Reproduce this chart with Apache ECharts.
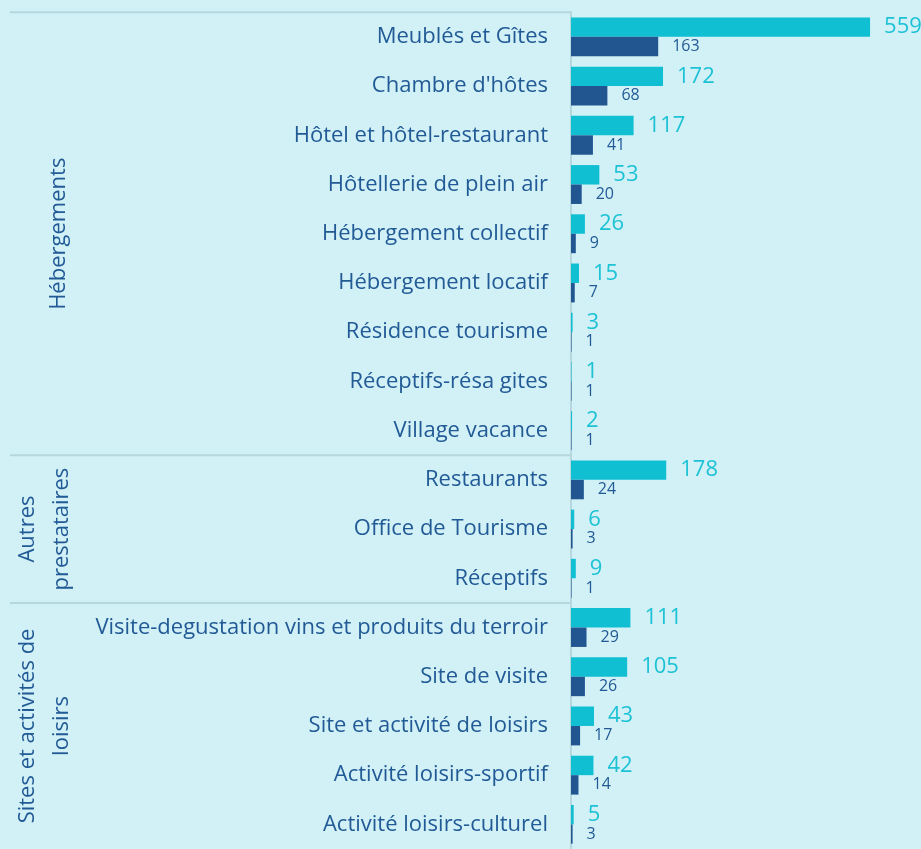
<!DOCTYPE html>
<html>
<head>
<meta charset="utf-8">
<script src="https://cdn.jsdelivr.net/npm/echarts@6/dist/echarts.min.js"></script>
<style>
  html, body { margin: 0; padding: 0; background: #d1f1f7; }
  #chart { width: 921px; height: 849px; }
</style>
</head>
<body>
<div id="chart"></div>
<script>
const categories = [
  'Meublés et Gîtes', "Chambre d'hôtes", 'Hôtel et hôtel-restaurant',
  'Hôtellerie de plein air', 'Hébergement collectif', 'Hébergement locatif',
  'Résidence tourisme', 'Réceptifs-résa gites', 'Village vacance',
  'Restaurants', 'Office de Tourisme', 'Réceptifs',
  'Visite-degustation vins et produits du terroir', 'Site de visite',
  'Site et activité de loisirs', 'Activité loisirs-sportif', 'Activité loisirs-culturel'
]
const valuesLight = [559, 172, 117, 53, 26, 15, 3, 1, 2, 178, 6, 9, 111, 105, 43, 42, 5]
const valuesDark = [163, 68, 41, 20, 9, 7, 1, 1, 1, 24, 3, 1, 29, 26, 17, 14, 3]

// group name, first and last category index
const groupNames = ['Hébergements', 'Autres\nprestataires', 'Sites et activités de\nloisirs']
const groupStart = [0, 9, 12]
const groupEnd = [8, 11, 16]

const textBlue = '#225a96'
const cyan = '#10bfd2'
const darkBlue = '#215690'
const lineColor = '#b6d7de'
const font = 'Open Sans'

const chart = echarts.init(document.getElementById('chart'))
chart.setOption({
  backgroundColor: '#d1f1f7',
  animation: false,
  grid: { left: 571, top: 12.25, width: 321, height: 841.5 },
  xAxis: { type: 'value', min: 0, max: 600, show: false },
  yAxis: {
    type: 'category',
    inverse: true,
    data: categories,
    axisTick: { show: false },
    axisLine: { show: true, lineStyle: { color: lineColor, width: 2 } },
    axisLabel: { color: textBlue, fontSize: 22, fontFamily: font, margin: 23 }
  },
  series: [
    {
      type: 'bar',
      data: valuesLight,
      itemStyle: { color: cyan },
      barGap: '0%',
      barCategoryGap: '21%',
      label: { show: true, position: 'right', distance: 14, color: '#1ec2d5', fontSize: 22, fontFamily: font }
    },
    {
      type: 'bar',
      data: valuesDark,
      itemStyle: { color: darkBlue },
      label: { show: true, position: 'right', distance: 14, color: textBlue, fontSize: 16, fontFamily: font }
    }
  ]
})

// group separators and rotated group labels
const p0 = chart.convertToPixel({ yAxisIndex: 0 }, 0)
const rowH = chart.convertToPixel({ yAxisIndex: 0 }, 1) - p0
const axisX = chart.convertToPixel({ xAxisIndex: 0 }, 0)
const graphic = []
groupNames.forEach((name, i) => {
  const top = chart.convertToPixel({ yAxisIndex: 0 }, groupStart[i]) - rowH / 2
  const bottom = chart.convertToPixel({ yAxisIndex: 0 }, groupEnd[i]) + rowH / 2
  graphic.push({
    type: 'line',
    shape: { x1: 10, y1: top, x2: axisX, y2: top },
    style: { stroke: lineColor, lineWidth: 2 }
  })
  graphic.push({
    type: 'text',
    x: name.includes('\n') ? 45 : 59,
    y: (top + bottom) / 2,
    rotation: Math.PI / 2,
    style: {
      text: name,
      fill: textBlue,
      fontSize: 22,
      fontFamily: font,
      lineHeight: 34,
      align: 'center',
      verticalAlign: 'middle'
    }
  })
})
chart.setOption({ graphic })
</script>
</body>
</html>
